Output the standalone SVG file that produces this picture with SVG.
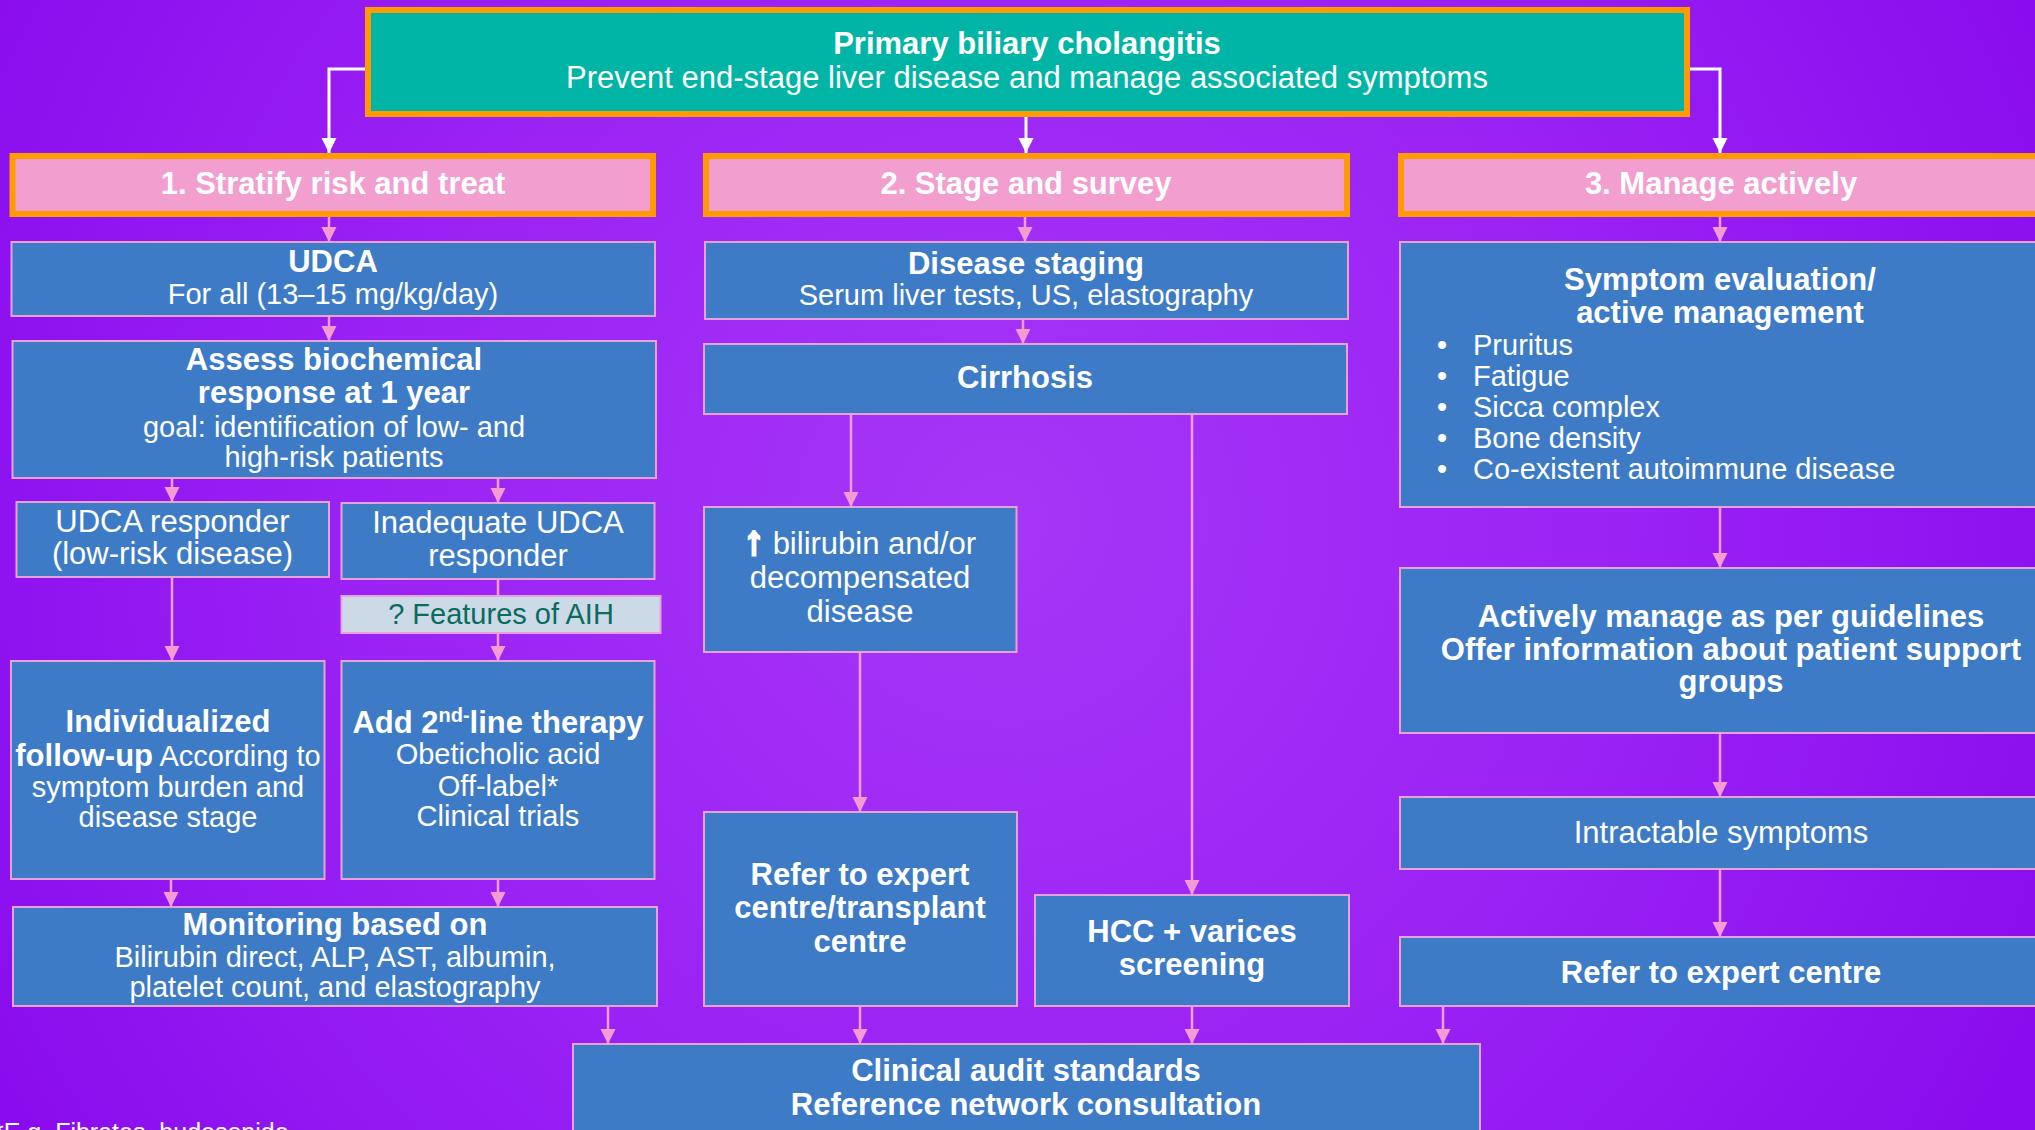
<svg xmlns="http://www.w3.org/2000/svg" width="2035" height="1130" viewBox="0 0 2035 1130">
<defs>
<radialGradient id="bg" cx="1000" cy="520" r="1150" gradientUnits="userSpaceOnUse">
<stop offset="0" stop-color="#A636F7"/>
<stop offset="0.55" stop-color="#9A22F4"/>
<stop offset="1" stop-color="#8A0CEE"/>
</radialGradient>
<marker id="ap" markerUnits="userSpaceOnUse" markerWidth="16" markerHeight="16" refX="15" refY="7.5" orient="auto"><path d="M0,0 L15,7.5 L0,15 z" fill="#F29CD3"/></marker>
<marker id="aw" markerUnits="userSpaceOnUse" markerWidth="16" markerHeight="16" refX="15" refY="7.5" orient="auto"><path d="M0,0 L15,7.5 L0,15 z" fill="#FFFFFF"/></marker>
<style>
.bx{fill:#3E7BC7;stroke:#E7A2DC;stroke-width:2}
.hd{fill:#F29ECF;stroke:#FF9A00;stroke-width:6}
.tp{fill:#00B5A6;stroke:#FF9A00;stroke-width:6}
.aih{fill:#CCDAE8;stroke:#E7A2DC;stroke-width:2}
text{font-family:"Liberation Sans",Arial,sans-serif;fill:#FFFFFF;text-anchor:middle;font-size:31px}
.b{font-weight:bold}
.s{font-size:29px}
.l{text-anchor:start}
.pk{fill:none;stroke:#F29CD3;stroke-width:2.5;marker-end:url(#ap)}
.pn{fill:none;stroke:#F29CD3;stroke-width:2.5}
.wh{fill:none;stroke:#FFFFFF;stroke-width:3;marker-end:url(#aw)}
</style>
</defs>
<rect x="0" y="0" width="2035" height="1130" fill="url(#bg)"/>

<g id="connectors">
<path class="wh" d="M365,69 H329 V153"/>
<path class="wh" d="M1026,117 V153"/>
<path class="wh" d="M1690,69 H1720 V153"/>
<path class="pk" d="M329,217 V242"/>
<path class="pk" d="M1025,217 V242"/>
<path class="pk" d="M1720,217 V242"/>
<path class="pk" d="M329,316 V341"/>
<path class="pk" d="M172,478 V502"/>
<path class="pk" d="M498,478 V503"/>
<path class="pk" d="M172,577 V661"/>
<path class="pn" d="M498,579 V596"/>
<path class="pk" d="M498,633 V661"/>
<path class="pk" d="M171,879 V907"/>
<path class="pk" d="M498,879 V907"/>
<path class="pk" d="M608,1006 V1044"/>
<path class="pk" d="M1023,319 V344"/>
<path class="pk" d="M851,414 V507"/>
<path class="pk" d="M1192,414 V895"/>
<path class="pk" d="M860,652 V812"/>
<path class="pk" d="M860,1006 V1044"/>
<path class="pk" d="M1192,1006 V1044"/>
<path class="pk" d="M1720,507 V568"/>
<path class="pk" d="M1720,733 V797"/>
<path class="pk" d="M1720,869 V937"/>
<path class="pk" d="M1443,1006 V1044"/>
</g>

<g id="top">
<rect class="tp" x="368" y="10" width="1319" height="104"/>
<text class="b" x="1027" y="54">Primary biliary cholangitis</text>
<text x="1027" y="88">Prevent end-stage liver disease and manage associated symptoms</text>
</g>

<g id="head1">
<rect class="hd" x="12.5" y="156" width="640.5" height="58"/>
<text class="b" x="333" y="194">1. Stratify risk and treat</text>
</g>
<g id="head2">
<rect class="hd" x="706" y="156" width="641" height="58"/>
<text class="b" x="1026" y="194">2. Stage and survey</text>
</g>
<g id="head3">
<rect class="hd" x="1401" y="156" width="660" height="58"/>
<text class="b" x="1721" y="194">3. Manage actively</text>
</g>

<g id="udca">
<rect class="bx" x="11.5" y="242" width="643.5" height="74"/>
<text class="b" x="333" y="272">UDCA</text>
<text class="s" x="333" y="304">For all (13–15 mg/kg/day)</text>
</g>

<g id="assess">
<rect class="bx" x="12.5" y="341" width="643.5" height="137"/>
<text class="b" x="334" y="370">Assess biochemical</text>
<text class="b" x="334" y="403">response at 1 year</text>
<text class="s" x="334" y="437">goal: identification of low- and</text>
<text class="s" x="334" y="467">high-risk patients</text>
</g>

<g id="udca-responder">
<rect class="bx" x="16.5" y="502" width="312.5" height="75"/>
<text x="172.5" y="532">UDCA responder</text>
<text x="172.5" y="564">(low-risk disease)</text>
</g>

<g id="inadequate">
<rect class="bx" x="341.5" y="503" width="313" height="76"/>
<text x="498" y="533">Inadequate UDCA</text>
<text x="498" y="566">responder</text>
</g>

<g id="aih">
<rect class="aih" x="341.5" y="596" width="319" height="37"/>
<text class="s" x="501" y="624" style="fill:#0B6B5C">? Features of AIH</text>
</g>

<g id="individualized">
<rect class="bx" x="11" y="661" width="313.5" height="218"/>
<text class="b" x="168" y="732">Individualized</text>
<text x="168" y="766"><tspan class="b">follow-up</tspan><tspan class="s"> According to</tspan></text>
<text class="s" x="168" y="797">symptom burden and</text>
<text class="s" x="168" y="827">disease stage</text>
</g>

<g id="second-line">
<rect class="bx" x="341.5" y="661" width="313" height="218"/>
<text class="b" x="498" y="733">Add 2<tspan font-size="20" dy="-11">nd-</tspan><tspan dy="11">line therapy</tspan></text>
<text class="s" x="498" y="764">Obeticholic acid</text>
<text class="s" x="498" y="796">Off-label*</text>
<text class="s" x="498" y="826">Clinical trials</text>
</g>

<g id="monitoring">
<rect class="bx" x="13" y="907" width="644" height="99"/>
<text class="b" x="335" y="935">Monitoring based on</text>
<text class="s" x="335" y="967">Bilirubin direct, ALP, AST, albumin,</text>
<text class="s" x="335" y="997">platelet count, and elastography</text>
</g>

<g id="staging">
<rect class="bx" x="705" y="242" width="643" height="77"/>
<text class="b" x="1026" y="274">Disease staging</text>
<text class="s" x="1026" y="305">Serum liver tests, US, elastography</text>
</g>

<g id="cirrhosis">
<rect class="bx" x="704" y="344" width="643" height="70"/>
<text class="b" x="1025" y="388">Cirrhosis</text>
</g>

<g id="bilirubin">
<rect class="bx" x="704" y="507" width="312.5" height="145"/>
<text x="860" y="554"><tspan class="b" style="font-size:40px;stroke:#FFFFFF;stroke-width:3">↑</tspan> bilirubin and/or</text>
<text x="860" y="588">decompensated</text>
<text x="860" y="622">disease</text>
</g>

<g id="refer-transplant">
<rect class="bx" x="704" y="812" width="313" height="194"/>
<text class="b" x="860" y="885">Refer to expert</text>
<text class="b" x="860" y="918">centre/transplant</text>
<text class="b" x="860" y="952">centre</text>
</g>

<g id="hcc">
<rect class="bx" x="1035" y="895" width="314" height="111"/>
<text class="b" x="1192" y="942">HCC + varices</text>
<text class="b" x="1192" y="975">screening</text>
</g>

<g id="symptom">
<rect class="bx" x="1400" y="242" width="660" height="265"/>
<text class="b" x="1720" y="290">Symptom evaluation/</text>
<text class="b" x="1720" y="323">active management</text>
<text class="s l" x="1437" y="355">•</text><text class="s l" x="1473" y="355">Pruritus</text>
<text class="s l" x="1437" y="386">•</text><text class="s l" x="1473" y="386">Fatigue</text>
<text class="s l" x="1437" y="417">•</text><text class="s l" x="1473" y="417">Sicca complex</text>
<text class="s l" x="1437" y="448">•</text><text class="s l" x="1473" y="448">Bone density</text>
<text class="s l" x="1437" y="479">•</text><text class="s l" x="1473" y="479">Co-existent autoimmune disease</text>
</g>

<g id="actively">
<rect class="bx" x="1400" y="568" width="660" height="165"/>
<text class="b" x="1731" y="627">Actively manage as per guidelines</text>
<text class="b" x="1731" y="660">Offer information about patient support</text>
<text class="b" x="1731" y="692">groups</text>
</g>

<g id="intractable">
<rect class="bx" x="1400" y="797" width="660" height="72"/>
<text x="1721" y="843">Intractable symptoms</text>
</g>

<g id="refer-expert">
<rect class="bx" x="1400" y="937" width="660" height="69"/>
<text class="b" x="1721" y="983">Refer to expert centre</text>
</g>

<g id="clinical">
<rect class="bx" x="573" y="1044" width="907" height="100"/>
<text class="b" x="1026" y="1081">Clinical audit standards</text>
<text class="b" x="1026" y="1115">Reference network consultation</text>
</g>

<g id="footnote">
<text class="l" x="-6" y="1141" style="font-size:25px">*E.g. Fibrates, budesonide</text>
</g>
</svg>
